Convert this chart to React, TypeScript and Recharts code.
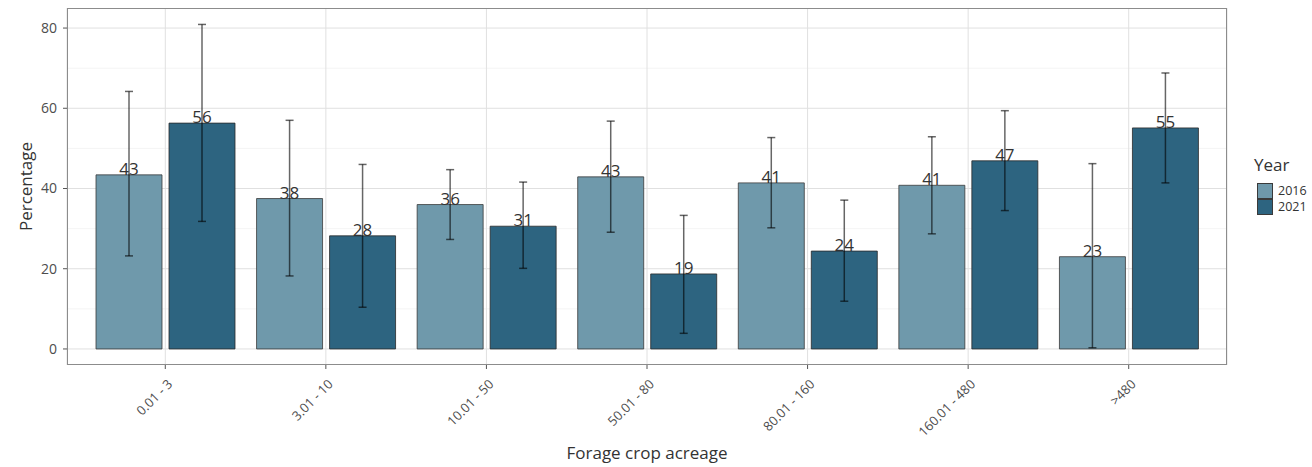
import React from "react";
import {
  BarChart, Bar, XAxis, YAxis, CartesianGrid, ErrorBar, LabelList,
} from "recharts";

// values
const categories = ["0.01 - 3", "3.01 - 10", "10.01 - 50", "50.01 - 80", "80.01 - 160", "160.01 - 480", ">480"];
const pct2016 = [43.4, 37.5, 36.0, 42.9, 41.4, 40.8, 23.0];
const pct2021 = [56.3, 28.2, 30.6, 18.7, 24.4, 46.9, 55.1];
const low2016 = [23.2, 18.2, 27.3, 29.1, 30.2, 28.7, 0.3];
const high2016 = [64.2, 57.0, 44.7, 56.8, 52.7, 52.9, 46.2];
const low2021 = [31.8, 10.4, 20.1, 3.9, 11.9, 34.5, 41.4];
const high2021 = [80.9, 46.0, 41.6, 33.3, 37.1, 59.4, 68.8];
const yTicks = [0, 20, 40, 60, 80];
const yMinor = [10, 30, 50, 70];
const years = ["2016", "2021"];

const C16 = "#6f99ab";
const C21 = "#2d6480";
const FONT = "'Open Sans', sans-serif";

const data = categories.map((name, i) => ({
  name,
  y16: pct2016[i],
  y21: pct2021[i],
  e16: [pct2016[i] - low2016[i], high2016[i] - pct2016[i]],
  e21: [pct2021[i] - low2021[i], high2021[i] - pct2021[i]],
}));

const XTick = (p: any) => (
  <text
    transform={`translate(${p.x + 8},${p.y + 14}) rotate(-45)`}
    textAnchor="end" fontSize={13} fill="#4d4d4d" fontFamily={FONT}
  >
    {p.payload.value}
  </text>
);

const YTitle = (p: any) => {
  const vb = p.viewBox;
  const cy = vb.y + vb.height / 2;
  return (
    <text x={25} y={cy} transform={`rotate(-90, 25, ${cy})`} textAnchor="middle"
      dominantBaseline="central" fontSize={17} fill="#333" fontFamily={FONT}>
      Percentage
    </text>
  );
};

const fmt = (v: any) => String(Math.round(Number(v)));

export default function App() {
  return (
    <div style={{ position: "absolute", left: 0, top: 0, width: 1312, height: 467, background: "#fff", overflow: "hidden" }}>
      <BarChart width={1312} height={467} data={data}
        margin={{ top: 8, right: 85, bottom: 0, left: 8 }}
        barCategoryGap={11} barGap={7}>
        <CartesianGrid horizontalValues={yMinor} vertical={false} stroke="#f1f1f1" strokeWidth={0.8} />
        <CartesianGrid horizontalValues={yTicks} stroke="#e0e0e0" strokeWidth={1} />
        <XAxis dataKey="name" type="category" height={102} padding={{ left: 18, right: 18 }}
          axisLine={false} tickLine={{ stroke: "#555" }} tickSize={4} tick={<XTick />} interval={0}
          label={{ value: "Forage crop acreage", position: "insideBottom", offset: 8, fontSize: 17, fill: "#333", fontFamily: FONT }} />
        <YAxis type="number" domain={[-4, 85]} ticks={yTicks} width={59} allowDataOverflow
          axisLine={false} tickLine={{ stroke: "#555" }} tickSize={4} tickMargin={6}
          tick={{ fontSize: 14, fill: "#4d4d4d", fontFamily: FONT }}
          label={<YTitle />} />
        <Bar dataKey="y16" name="2016" fill={C16} stroke="#3a3a3a" strokeWidth={0.8} isAnimationActive={false}>
          <ErrorBar dataKey="e16" width={4} stroke="rgba(0,0,0,0.6)" strokeWidth={1.5} direction="y" />
          <LabelList dataKey="y16" position="top" offset={0} formatter={fmt}
            style={{ fontSize: 17, fill: "#333", fontFamily: FONT }} />
        </Bar>
        <Bar dataKey="y21" name="2021" fill={C21} stroke="#2a2a2a" strokeWidth={0.8} isAnimationActive={false}>
          <ErrorBar dataKey="e21" width={4} stroke="rgba(0,0,0,0.6)" strokeWidth={1.5} direction="y" />
          <LabelList dataKey="y21" position="top" offset={0} formatter={fmt}
            style={{ fontSize: 17, fill: "#333", fontFamily: FONT }} />
        </Bar>
      </BarChart>
      {/* panel border */}
      <div style={{ position: "absolute", left: 67, top: 8, width: 1160, height: 357, border: "1.5px solid #8c8c8c", boxSizing: "border-box", pointerEvents: "none" }} />
      {/* legend */}
      <div style={{ position: "absolute", left: 1254, top: 153, fontFamily: FONT, color: "#333" }}>
        <div style={{ fontSize: 17, lineHeight: "24px" }}>Year</div>
        {years.map((y, i) => (
          <div key={y} style={{ display: "flex", alignItems: "center", height: 16, marginTop: i === 0 ? 6 : 0 }}>
            <div style={{ width: 16, height: 16, marginLeft: 3, background: i === 0 ? C16 : C21, border: "1px solid #3a3a3a", boxSizing: "border-box" }} />
            <span style={{ fontSize: 12.5, lineHeight: "16px", marginLeft: 5, color: "#333", whiteSpace: "nowrap" }}>{y}</span>
          </div>
        ))}
      </div>
    </div>
  );
}
